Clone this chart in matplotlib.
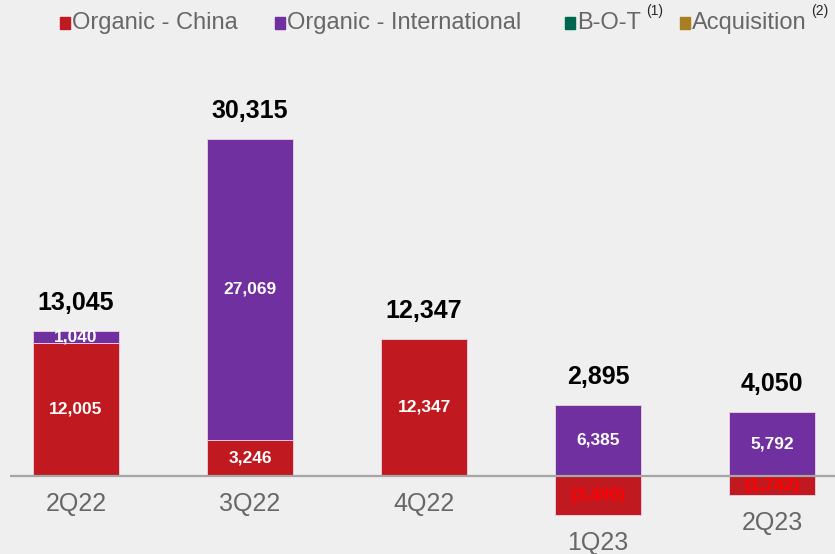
import matplotlib
matplotlib.use("Agg")
import matplotlib.pyplot as plt
from matplotlib.patches import Rectangle

plt.rcParams['font.family'] = ['Liberation Sans', 'DejaVu Sans']

quarters = ["2Q22", "3Q22", "4Q22", "1Q23", "2Q23"]
organic_china = [12005, 3246, 12347, -3490, -1742]
organic_intl = [1040, 27069, 0, 6385, 5792]
totals = [13045, 30315, 12347, 2895, 4050]

legend_labels = ["Organic - China", "Organic - International", "B-O-T", "Acquisition"]
legend_notes = ["", "", "(1)", "(2)"]

RED = "#c0191f"
PURPLE = "#7030a0"
GREEN = "#00664f"
GOLD = "#a97e22"
legend_colors = [RED, PURPLE, GREEN, GOLD]
BG = "#efefef"
GREY_TXT = "#676767"

W, H = 835, 554
fig = plt.figure(figsize=(W / 100, H / 100), dpi=100, facecolor=BG)
ax = fig.add_axes([0, 0, 1, 1], facecolor=BG)
ax.set_xlim(-0.437, 4.362)
ax.set_ylim(-7015, 42808)
ax.axis("off")

x = list(range(len(quarters)))
width = 0.494
edge = dict(edgecolor="#e9c9dc", linewidth=0.7)

intl_bottom = [max(c, 0) for c in organic_china]
ax.bar(x, organic_china, width, color=RED, zorder=2, **edge)
ax.bar(x, organic_intl, width, bottom=intl_bottom, color=PURPLE, zorder=2, **edge)

# baseline
ax.plot([-0.38, 4.362], [0, 0], color="#a6a6a6", lw=1.6, zorder=3,
        solid_capstyle="butt")

for i in x:
    c = organic_china[i]
    p = organic_intl[i]
    # segment values
    if c > 0:
        ax.text(i, c / 2, f"{c:,}", ha="center", va="center", color="white",
                fontsize=12.5, fontweight="bold", zorder=4)
    elif c < 0:
        ax.text(i, c / 2, f"({-c:,})", ha="center", va="center", color="#ff0000",
                fontsize=12.5, fontweight="bold", zorder=4)
    if p > 0:
        ax.text(i, intl_bottom[i] + p / 2, f"{p:,}", ha="center", va="center",
                color="white", fontsize=12.5, fontweight="bold", zorder=4)
    # totals above stack
    top = intl_bottom[i] + p
    ax.annotate(f"{totals[i]:,}", (i, top), xytext=(0, 20), textcoords="offset points",
                ha="center", va="center", fontsize=18, fontweight="bold", color="black")
    # category label below stack
    low = min(c, 0)
    ax.annotate(quarters[i], (i, low), xytext=(0, -20), textcoords="offset points",
                ha="center", va="center", fontsize=18, color=GREY_TXT)

# legend row
def fx(px):
    return px / W

def fy(py):
    return 1 - py / H

sq_x = [60, 275, 565, 680]
for lab, note, col, sx in zip(legend_labels, legend_notes, legend_colors, sq_x):
    fig.patches.append(Rectangle((fx(sx), fy(29)), 10 / W, 12 / H, color=col,
                                 transform=fig.transFigure, figure=fig))
    t = fig.text(fx(sx + 12), fy(23), lab, ha="left", va="center",
                 fontsize=17, color=GREY_TXT)
    if note:
        fig.canvas.draw()
        bb = t.get_window_extent()
        fig.text(bb.x1 / W + 5 / W, fy(11), note, ha="left", va="center",
                 fontsize=10, color="#262626")

fig.savefig("out.png", dpi=100, facecolor=BG)
